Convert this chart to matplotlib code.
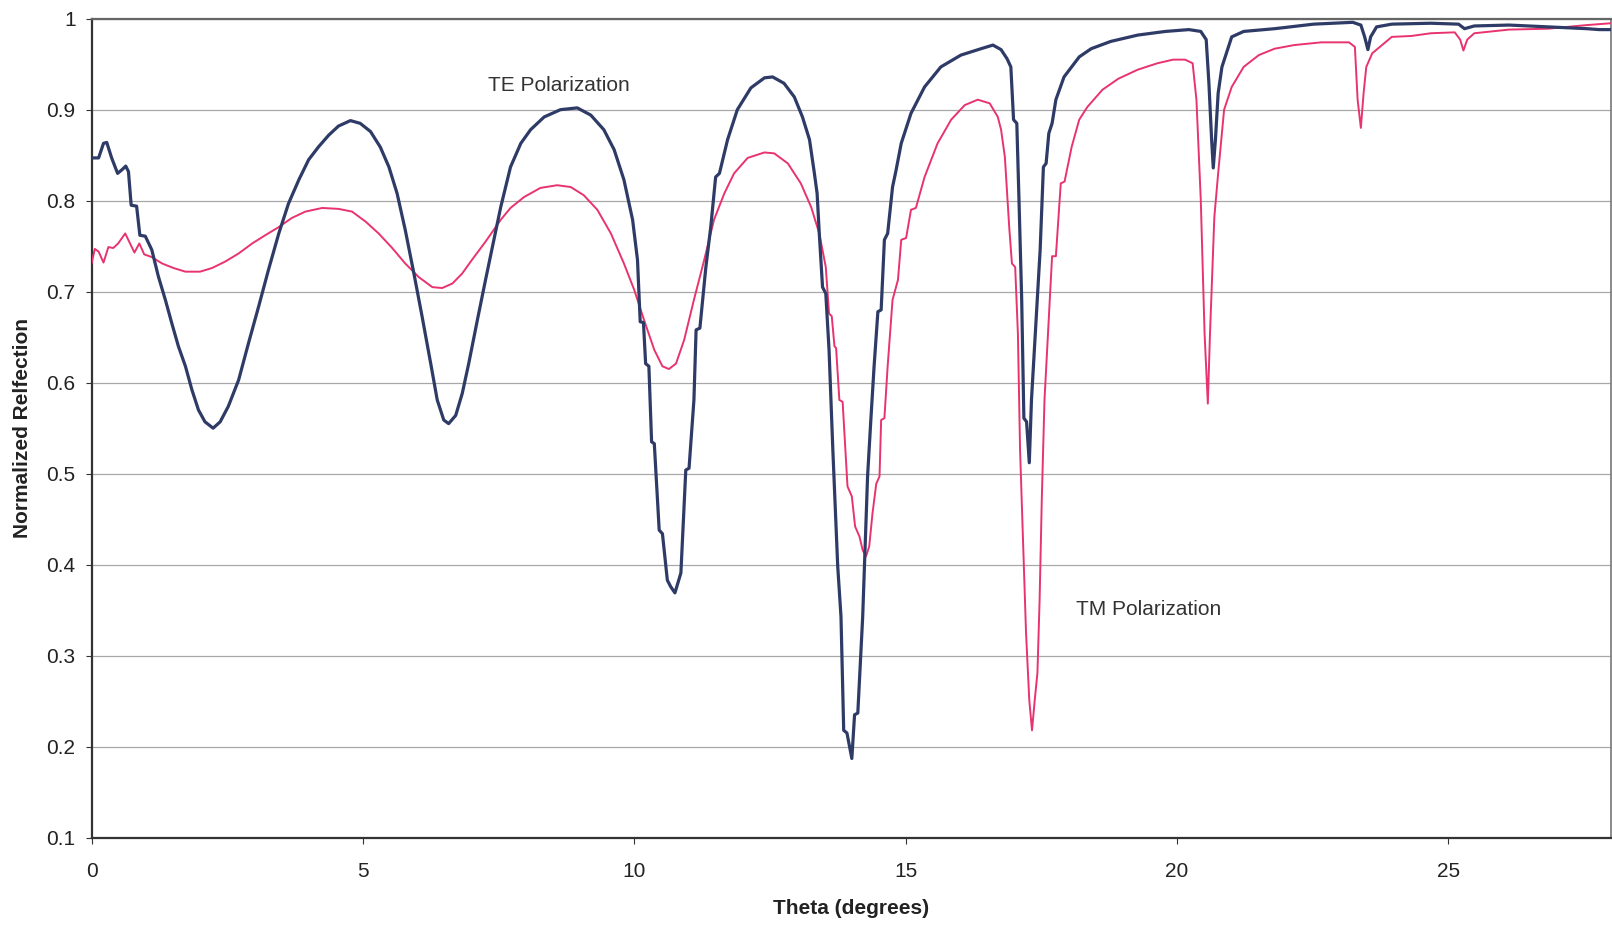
import matplotlib
matplotlib.use("Agg")
import matplotlib.pyplot as plt

# Reflection spectra, TE and TM polarization
te_theta = [0.00, 0.13, 0.22, 0.28, 0.37, 0.48, 0.56, 0.63, 0.68, 0.73, 0.83, 0.89, 0.99,
            1.11, 1.23, 1.36, 1.48, 1.60, 1.73, 1.85, 1.97, 2.09, 2.24, 2.37, 2.52, 2.71,
            2.89, 3.08, 3.26, 3.45, 3.63, 3.82, 4.00, 4.18, 4.37, 4.55, 4.77, 4.95, 5.14,
            5.32, 5.48, 5.63, 5.78, 5.94, 6.09, 6.25, 6.37, 6.49, 6.58, 6.71, 6.83, 6.95,
            7.11, 7.26, 7.54, 7.72, 7.91, 8.09, 8.34, 8.64, 8.95, 9.20, 9.44, 9.63, 9.81,
            9.97, 10.06, 10.11, 10.17, 10.21, 10.27, 10.32, 10.37, 10.46, 10.52, 10.61,
            10.67, 10.75, 10.86, 10.95, 11.01, 11.10, 11.14, 11.21, 11.32, 11.41, 11.50,
            11.57, 11.72, 11.90, 12.15, 12.40, 12.55, 12.76, 12.95, 13.10, 13.23, 13.32,
            13.37, 13.41, 13.47, 13.53, 13.59, 13.66, 13.75, 13.81, 13.86, 13.92, 14.01,
            14.06, 14.12, 14.21, 14.30, 14.36, 14.42, 14.49, 14.55, 14.61, 14.67, 14.76,
            14.82, 14.92, 15.10, 15.35, 15.65, 16.02, 16.39, 16.61, 16.76, 16.87, 16.94,
            16.99, 17.05, 17.09, 17.14, 17.18, 17.23, 17.28, 17.32, 17.41, 17.48, 17.54,
            17.59, 17.64, 17.70, 17.77, 17.92, 18.20, 18.42, 18.78, 19.28, 19.79, 20.22,
            20.44, 20.54, 20.59, 20.64, 20.67, 20.71, 20.76, 20.83, 21.01, 21.23, 21.80,
            22.52, 23.24, 23.39, 23.46, 23.52, 23.57, 23.68, 23.96, 24.68, 25.19, 25.30,
            25.48, 26.12, 26.84, 27.56, 27.78, 28.00]
te_refl = [0.847, 0.847, 0.863, 0.864, 0.847, 0.830, 0.834, 0.838, 0.832, 0.795, 0.794, 0.762, 0.761,
           0.746, 0.717, 0.691, 0.665, 0.640, 0.618, 0.592, 0.570, 0.557, 0.550, 0.557, 0.574, 0.603,
           0.643, 0.684, 0.724, 0.764, 0.797, 0.823, 0.845, 0.859, 0.872, 0.882, 0.888, 0.885, 0.876,
           0.859, 0.837, 0.808, 0.768, 0.720, 0.673, 0.621, 0.581, 0.559, 0.555, 0.564, 0.588, 0.621,
           0.669, 0.713, 0.793, 0.837, 0.863, 0.878, 0.892, 0.900, 0.902, 0.894, 0.878, 0.856, 0.823,
           0.779, 0.735, 0.667, 0.666, 0.621, 0.618, 0.535, 0.533, 0.438, 0.434, 0.383,
           0.376, 0.369, 0.391, 0.504, 0.506, 0.581, 0.658, 0.660, 0.727, 0.771, 0.826,
           0.830, 0.867, 0.900, 0.924, 0.935, 0.936, 0.929, 0.914, 0.892, 0.867, 0.830,
           0.808, 0.764, 0.705, 0.698, 0.636, 0.526, 0.398, 0.343, 0.218, 0.215, 0.187,
           0.235, 0.237, 0.343, 0.497, 0.559, 0.618, 0.678, 0.680, 0.757, 0.764, 0.815,
           0.832, 0.863, 0.896, 0.925, 0.947, 0.960, 0.967, 0.971, 0.966, 0.956, 0.947,
           0.889, 0.885, 0.801, 0.691, 0.561, 0.557, 0.512, 0.581, 0.673, 0.746, 0.837,
           0.841, 0.874, 0.885, 0.911, 0.936, 0.958, 0.967, 0.975, 0.982, 0.986, 0.988,
           0.986, 0.977, 0.929, 0.867, 0.836, 0.867, 0.918, 0.947, 0.980, 0.986, 0.989,
           0.994, 0.996, 0.993, 0.980, 0.966, 0.980, 0.991, 0.994, 0.995, 0.994, 0.989,
           0.992, 0.993, 0.991, 0.989, 0.988, 0.988]

tm_theta = [0.00, 0.06, 0.13, 0.22, 0.31, 0.40, 0.49, 0.62, 0.71, 0.79, 0.88, 0.97, 1.11,
            1.30, 1.51, 1.73, 2.00, 2.22, 2.46, 2.71, 2.96, 3.20, 3.45, 3.69, 3.94, 4.25,
            4.55, 4.80, 5.05, 5.29, 5.54, 5.78, 6.03, 6.28, 6.46, 6.65, 6.83, 7.01, 7.26,
            7.54, 7.72, 7.97, 8.27, 8.58, 8.83, 9.07, 9.32, 9.57, 9.81, 10.00, 10.18, 10.37,
            10.52, 10.64, 10.77, 10.92, 11.10, 11.29, 11.47, 11.66, 11.84, 12.09, 12.40,
            12.58, 12.83, 13.07, 13.26, 13.41, 13.53, 13.59, 13.64, 13.69, 13.72, 13.78,
            13.84, 13.93, 14.01, 14.07, 14.15, 14.21, 14.27, 14.33, 14.39, 14.46, 14.52,
            14.55, 14.61, 14.67, 14.76, 14.86, 14.92, 15.01, 15.10, 15.19, 15.35, 15.59,
            15.84, 16.09, 16.33, 16.55, 16.70, 16.76, 16.83, 16.91, 16.96, 17.02, 17.07,
            17.11, 17.16, 17.22, 17.28, 17.33, 17.38, 17.43, 17.47, 17.51, 17.56, 17.70,
            17.77, 17.86, 17.93, 18.06, 18.20, 18.35, 18.63, 18.92, 19.28, 19.64, 19.93,
            20.15, 20.29, 20.36, 20.44, 20.51, 20.57, 20.61, 20.69, 20.76, 20.87, 21.01,
            21.23, 21.51, 21.80, 22.16, 22.66, 23.17, 23.28, 23.33, 23.39, 23.44, 23.49,
            23.60, 23.96, 24.32, 24.68, 25.12, 25.22, 25.28, 25.35, 25.48, 26.12, 26.84,
            27.56, 28.00]
tm_refl = [0.731, 0.747, 0.744, 0.732, 0.749, 0.748, 0.753, 0.764, 0.753, 0.743, 0.753, 0.741, 0.738,
           0.731, 0.726, 0.722, 0.722, 0.726, 0.733, 0.742, 0.753, 0.762, 0.771, 0.781, 0.788, 0.792,
           0.791, 0.788, 0.777, 0.764, 0.748, 0.731, 0.716, 0.705, 0.704, 0.709, 0.720, 0.735, 0.755,
           0.779, 0.792, 0.804, 0.814, 0.817, 0.815, 0.806, 0.790, 0.764, 0.731, 0.702, 0.669, 0.636,
           0.618, 0.615, 0.621, 0.647, 0.691, 0.735, 0.779, 0.808, 0.830, 0.847, 0.853,
           0.852, 0.841, 0.819, 0.793, 0.764, 0.727, 0.676, 0.673, 0.640, 0.638, 0.581,
           0.579, 0.486, 0.475, 0.442, 0.431, 0.416, 0.409, 0.420, 0.456, 0.489, 0.497,
           0.559, 0.561, 0.618, 0.691, 0.713, 0.757, 0.759, 0.790, 0.792, 0.826, 0.863,
           0.889, 0.905, 0.911, 0.907, 0.892, 0.878, 0.848, 0.771, 0.731, 0.727, 0.654,
           0.526, 0.434, 0.325, 0.251, 0.218, 0.251, 0.281, 0.361, 0.471, 0.581, 0.739,
           0.739, 0.819, 0.821, 0.859, 0.889, 0.903, 0.922, 0.934, 0.944, 0.951, 0.955,
           0.955, 0.951, 0.911, 0.801, 0.654, 0.577, 0.654, 0.782, 0.830, 0.900, 0.925,
           0.947, 0.960, 0.967, 0.971, 0.974, 0.974, 0.969, 0.911, 0.880, 0.918, 0.947,
           0.962, 0.980, 0.981, 0.984, 0.985, 0.977, 0.965, 0.977, 0.984, 0.988, 0.989,
           0.993, 0.995]

x_ticks = [0, 5, 10, 15, 20, 25]
y_ticks = [0.1, 0.2, 0.3, 0.4, 0.5, 0.6, 0.7, 0.8, 0.9, 1.0]
y_tick_labels = ["0.1", "0.2", "0.3", "0.4", "0.5", "0.6", "0.7", "0.8", "0.9", "1"]

plt.rcParams["font.family"] = ["Liberation Sans", "DejaVu Sans"]

fig = plt.figure(figsize=(16.12, 9.25), dpi=100)
ax = fig.add_axes([0.0568, 0.0944, 0.9426, 0.8854])

ax.plot(tm_theta, tm_refl, color="#E8336E", linewidth=1.4, zorder=3,
        solid_joinstyle="round")
ax.plot(te_theta, te_refl, color="#2E3B66", linewidth=2.3, zorder=4,
        solid_joinstyle="round")

ax.set_xlim(0, 28)
ax.set_ylim(0.1, 1.0)
ax.set_xticks(x_ticks)
ax.set_xticklabels([str(t) for t in x_ticks])
ax.set_yticks(y_ticks)
ax.set_yticklabels(y_tick_labels)

ax.grid(axis="y", color="#A8A8A8", linewidth=0.9, zorder=0)
ax.set_axisbelow(True)

ax.tick_params(axis="both", direction="out", length=4.5, width=0.8,
               colors="#333333", labelsize=15, labelcolor="#222222")
ax.tick_params(axis="y", pad=7)
ax.tick_params(axis="x", pad=13)

for side in ["left", "bottom"]:
    ax.spines[side].set_color("#333333")
    ax.spines[side].set_linewidth(1.6)
ax.spines["top"].set_color("#666666")
ax.spines["top"].set_linewidth(1.6)
ax.spines["right"].set_color("#777777")
ax.spines["right"].set_linewidth(1.2)

ax.set_xlabel("Theta (degrees)", fontsize=15, fontweight="bold", color="#222222")
ax.set_ylabel("Normalized Relfection", fontsize=15, fontweight="bold", color="#222222")
ax.xaxis.set_label_coords(0.5, -0.087)
ax.xaxis.label.set_va("center")
ax.yaxis.set_label_coords(-0.0453, 0.5)
ax.yaxis.label.set_va("center")

ax.text(8.61, 0.927, "TE Polarization", fontsize=15, color="#333333",
        ha="center", va="center")
ax.text(19.47, 0.351, "TM Polarization", fontsize=15, color="#333333",
        ha="center", va="center")

fig.savefig("out.png", dpi=100, facecolor="white")
